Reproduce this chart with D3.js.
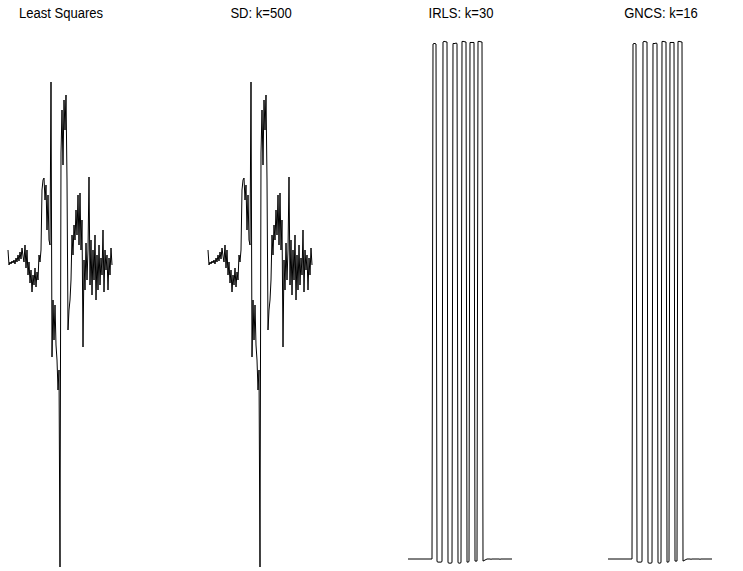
<!DOCTYPE html>
<html>
<head>
<meta charset="utf-8">
<script src="https://cdn.jsdelivr.net/npm/d3@7"></script>
<style>
  body { margin: 0; background: #fff; }
  svg { display: block; }
  text { font-family: "Liberation Sans", Arial, Helvetica, sans-serif; }
</style>
</head>
<body>
<svg width="743" height="571"></svg>
<script>
// Panel titles
const titles = ["Least Squares", "SD: k=500", "IRLS: k=30", "GNCS: k=16"];

// Least squares reconstruction (one value per sample)
const lsValues = [
  0.12, -0.03, 0, -0.02, 0.01, -0.01, 0.02, -0.02, 0.04, 0,
  0.07, 0.01, 0.10, 0.03, 0.14, 0.06, 0, 0.17, -0.06, 0.12,
  -0.13, 0, -0.21, -0.08, -0.30, -0.13, -0.23, -0.06, -0.25, -0.10,
  -0.18, 0.07, 0, 0.12, 0.72, 0.82, 0.84, 0.62, 0.77, 0.32,
  0.67, 0.22, 0.17, 1.80, -0.95, -0.38, -0.78, -0.43, -0.83, -0.98,
  -1.28, -1.08, -3.05, 1.09, 1.52, 0.97, 1.62, 1.32, 1.67, 0.82,
  -0.68, -0.48, -0.38, -0.18, 0.27, 0.07, 0.37, 0.22, 0.52, 0.27,
  0.67, 0.17, 0.69, 0.12, 0.42, -0.85, 0.02, -0.28, 0.19, -0.18,
  0.12, 0.85, -0.23, 0.22, -0.33, 0.12, -0.18, 0.27, -0.38, 0.07,
  -0.28, 0.17, -0.23, 0.04, -0.13, 0.32, -0.30, 0.12, -0.08, 0.07,
  -0.28, 0.04, -0.13, 0.14, -0.03
];

// Steepest descent after 500 iterations: same as least squares
const sdValues = lsValues.slice();

// IRLS result (pulse train, top ~100)
const irlsValues = [
  0, 0, 0, 0, 0, 0, 0, 0, 0, 0,
  0, 0, 0, 0, 0, 0, 0, 0, 0, 0,
  0, 0, 0, 0, 0, 99.8, 99.9, 99.9, 99.8, -0.5,
  -0.6, -0.6, -0.6, -0.6, -0.5, 100.2, 100.3, 100.3, 100.2, 100.2,
  -0.7, -0.8, -0.8, -0.8, -0.7, 99.9, 99.9, 99.9, 100, 99.9,
  -0.7, -0.8, -0.8, -0.7, 100.3, 100.3, 100.3, 100.2, 100.2, -0.6,
  -0.6, -0.5, 100.1, 100.1, 100.1, 100.1, 100.1, -0.4, -0.4, -0.4,
  100.3, 100.3, 100.3, 100.2, 100.2, -0.4, -0.3, -0.2, -0.1, 0,
  0, 0, 0, -0.05, 0, 0, 0, 0, 0, 0,
  0, 0, -0.05, 0, 0, 0, 0, 0, 0, 0,
  0, 0, 0, 0, 0
];

// GNCS result: same pulse train
const gncsValues = irlsValues.slice();

const svg = d3.select("svg");

const panels = [
  { title: titles[0], values: lsValues, domain: [-3.05, 1.80], range: [567, 82] },
  { title: titles[1], values: sdValues, domain: [-3.05, 1.80], range: [567, 82] },
  { title: titles[2], values: irlsValues, domain: [0, 100], range: [559, 43] },
  { title: titles[3], values: gncsValues, domain: [0, 100], range: [559, 43] }
];

const panelWidth = 200;

panels.forEach((p, k) => {
  const g = svg.append("g").attr("transform", `translate(${k * panelWidth},0)`);

  const x = d3.scaleLinear()
    .domain([0, p.values.length - 1])
    .range([8, 112]);

  const y = d3.scaleLinear()
    .domain(p.domain)
    .range(p.range);

  const line = d3.line()
    .x((d, i) => x(i))
    .y(d => y(d));

  g.append("path")
    .datum(p.values)
    .attr("fill", "none")
    .attr("stroke", "#000")
    .attr("stroke-width", 1)
    .attr("d", line);

  // Title, slightly condensed like the original print font
  g.append("text")
    .attr("transform", "translate(61,18) scale(0.9,1)")
    .attr("text-anchor", "middle")
    .attr("font-size", 14.5)
    .attr("fill", "#000")
    .text(p.title);
});
</script>
</body>
</html>
